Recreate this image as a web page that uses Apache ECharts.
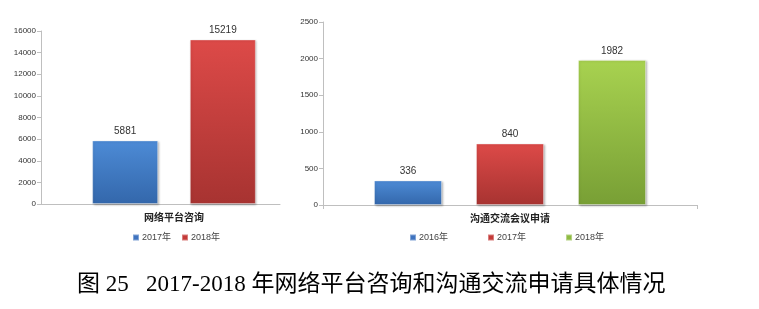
<!DOCTYPE html>
<html>
<head>
<meta charset="utf-8">
<script src="https://cdn.jsdelivr.net/npm/echarts@6/dist/echarts.min.js"></script>
<style>
  html, body { margin: 0; padding: 0; background: #fff; }
  #chart { width: 759px; height: 309px; }
</style>
</head>
<body>
<div id="chart"></div>
<script>
// 左图：网络平台咨询
const leftCategory = ['网络平台咨询']
const leftYears = ['2017年', '2018年']
const leftValues = [5881, 15219]
const leftTicks = [0, 2000, 4000, 6000, 8000, 10000, 12000, 14000, 16000]

// 右图：沟通交流会议申请
const rightCategory = ['沟通交流会议申请']
const rightYears = ['2016年', '2017年', '2018年']
const rightValues = [336, 840, 1982]
const rightTicks = [0, 500, 1000, 1500, 2000, 2500]

const titleText = '图 25   2017-2018 年网络平台咨询和沟通交流申请具体情况'

const FONT = '"Liberation Sans", "Noto Sans CJK SC", sans-serif'

// 每个年份的颜色：[上, 下, 图例]
const YEAR_COLORS = {
  '2016年': ['#4d8bd6', '#3367ab', '#3f73bf'],
  '2017年': ['#dd4a48', '#a73331', '#c43a38'],
  '2018年': ['#a8d250', '#789f35', '#8fbb42'],
}
// 左图中2017为蓝色
const LEFT_COLORS = {
  '2017年': YEAR_COLORS['2016年'],
  '2018年': YEAR_COLORS['2017年'],
}

const grad = (c) => new echarts.graphic.LinearGradient(0, 0, 0, 1, [
  { offset: 0, color: c[0] },
  { offset: 1, color: c[1] },
])

const yAxisBase = (ticks, gridIndex) => ({
  type: 'value',
  gridIndex,
  min: ticks[0],
  max: ticks[ticks.length - 1],
  interval: ticks[1] - ticks[0],
  axisLine: { show: true, lineStyle: { color: '#bfbfbf' } },
  axisTick: { show: true, length: 4, lineStyle: { color: '#bfbfbf' } },
  splitLine: { show: false },
  axisLabel: {
    fontSize: 8,
    color: '#333',
    margin: 5,
    fontFamily: FONT,
    formatter: (v) => String(v),
  },
})

const catAxisBase = (data, gridIndex, showLine) => ({
  type: 'category',
  gridIndex,
  data,
  axisLine: { show: showLine, lineStyle: { color: '#bfbfbf' } },
  axisTick: { show: showLine, length: 4, lineStyle: { color: '#bfbfbf' } },
  axisLabel: { fontSize: 10, color: '#222', fontWeight: 'bold', margin: 9, fontFamily: FONT },
})

const barSeries = (name, value, colors, axisIndex, barWidth, barGap) => ({
  name,
  type: 'bar',
  xAxisIndex: axisIndex,
  yAxisIndex: axisIndex,
  data: [value],
  barWidth,
  barGap,
  itemStyle: {
    color: grad(colors),
    borderColor: 'rgba(255,255,255,0.35)',
    borderWidth: 1,
    shadowColor: 'rgba(0,0,0,0.25)',
    shadowBlur: 2,
    shadowOffsetX: 1,
    shadowOffsetY: 1,
  },
  label: {
    show: true,
    position: 'top',
    distance: 4,
    fontSize: 10,
    color: '#333',
    fontFamily: FONT,
  },
})

const legendBase = (names, colorMap, left, itemGap) => ({
  left,
  top: 228,
  itemWidth: 6,
  itemHeight: 6,
  itemGap,
  icon: 'rect',
  textStyle: { fontSize: 9, color: '#444', fontFamily: FONT, padding: [0, 0, 0, -2] },
  data: names.map((n) => ({ name: n, itemStyle: { color: colorMap[n][2] } })),
})

const chart = echarts.init(document.getElementById('chart'))

const option = {
  backgroundColor: '#fff',
  animation: false,
  title: {
    text: titleText,
    left: 77,
    top: 273,
    padding: 0,
    textStyle: {
      fontSize: 23,
      fontWeight: 'normal',
      color: '#000',
      fontFamily: '"Liberation Serif", "Noto Sans CJK SC", serif',
    },
  },
  grid: [
    { left: 41, right: 452, top: 31, bottom: 105 },
    { left: 323, right: 62, top: 22, bottom: 104 },
    // 左图横轴线（只画到 x=280）
    { left: 41, right: 479, top: 31, bottom: 105 },
  ],
  xAxis: [
    catAxisBase(leftCategory, 0, false),
    catAxisBase(rightCategory, 1, true),
    {
      type: 'value',
      gridIndex: 2,
      axisLine: { show: true, lineStyle: { color: '#bfbfbf' } },
      axisTick: { show: false },
      axisLabel: { show: false },
      splitLine: { show: false },
    },
  ],
  yAxis: [
    yAxisBase(leftTicks, 0),
    yAxisBase(rightTicks, 1),
    { type: 'value', gridIndex: 2, show: false },
  ],
  legend: [
    legendBase(leftYears, LEFT_COLORS, 127, 10),
    legendBase(rightYears, YEAR_COLORS, 404, 39),
  ],
  series: [
    ...leftYears.map((y, i) => barSeries(y, leftValues[i], LEFT_COLORS[y], 0, 66, '48%')),
    ...rightYears.map((y, i) => barSeries(y, rightValues[i], YEAR_COLORS[y], 1, 68, '50%')),
  ],
}

chart.setOption(option)
</script>
</body>
</html>
